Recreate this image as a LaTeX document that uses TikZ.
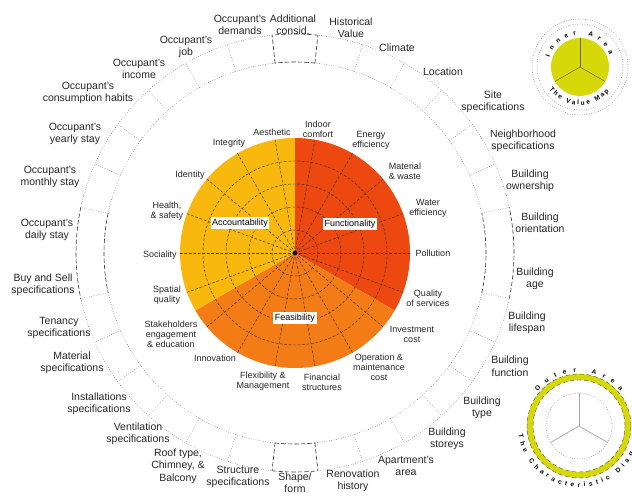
\documentclass[tikz,border=0pt]{standalone}
\usepackage{fontspec}
\setmainfont{Liberation Sans}
\usepackage{tikz}
\usetikzlibrary{decorations.text}
\definecolor{funcred}{RGB}{236,72,16}
\definecolor{feasorange}{RGB}{244,124,22}
\definecolor{accyellow}{RGB}{248,184,14}
\definecolor{mapyellow}{RGB}{214,216,10}
\newcommand{\legfont}{\fontsize{6.5}{7}\selectfont\bfseries}

\begin{document}
\begin{tikzpicture}[line cap=round,line join=round,x=1pt,y=1pt,
  grid/.style={black!80,line width=0.45pt,dash pattern=on 2.5pt off 2pt},
  ringdot/.style={black!70,line width=0.4pt,dotted},
  ringdash/.style={black!80,line width=0.6pt,dash pattern=on 4pt off 2.5pt},
  outlbl/.style={font=\fontsize{10.5}{12.5}\selectfont,align=center,text=black!85,inner sep=1pt},
  inlbl/.style={font=\fontsize{9}{10}\selectfont,align=center,text=black!85,inner sep=1pt},
  pillar/.style={fill=white,inner sep=1.5pt,font=\fontsize{9}{10}\selectfont}]
\clip(-295,-244) rectangle (337,253);
\fill[funcred] (0,0) -- (90:115) arc[start angle=90,end angle=-30,radius=115] -- cycle;
\fill[feasorange] (0,0) -- (-30:115) arc[start angle=-30,end angle=-150,radius=115] -- cycle;
\fill[accyellow] (0,0) -- (210:115) arc[start angle=210,end angle=90,radius=115] -- cycle;
\foreach \r in {23,46,69,92} \draw[grid] (0,0) circle[radius=\r];
\foreach \a in {0,20,...,340} \draw[grid] (0,0) -- (\a:115);
\fill[black] (0,0) circle[radius=2];
\foreach \s/\e in {12/84,96/168,192/264,276/348} {
  \draw[ringdot] (\s:191) arc[start angle=\s,end angle=\e,radius=191];
  \draw[ringdot] (\s:219) arc[start angle=\s,end angle=\e,radius=219];
}
\foreach \s/\e in {84/96,168/192,264/276,-12/12} {
  \draw[ringdash] (\s:191) arc[start angle=\s,end angle=\e,radius=191];
  \draw[ringdash] (\s:219) arc[start angle=\s,end angle=\e,radius=219];
}
\foreach \a in {12,24,36,48,60,72,108,120,132,144,156,168,192,204,216,228,240,252,288,300,312,324,336,348}
  \draw[ringdot] (\a:191) -- (\a:219);
\foreach \a in {84,96,264,276} \draw[ringdash] (\a:191) -- (\a:219);
\draw (55,29) node[pillar] (functionality) {Functionality};
\draw (-55,30) node[pillar] (accountability) {Accountability};
\draw (0,-65) node[pillar] (feasibility) {Feasibility};
\draw (23,124) node[inlbl] (indoor) {Indoor\\comfort};
\draw (76,113) node[inlbl] (energy) {Energy\\efficiency};
\draw (110,82) node[inlbl] (material) {Material\\\& waste};
\draw (133,45) node[inlbl] (water) {Water\\efficiency};
\draw (138,0) node[inlbl] (pollution) {Pollution};
\draw (133,-45) node[inlbl] (quality) {Quality\\of services};
\draw (117,-81) node[inlbl] (invest) {Investment\\cost};
\draw (84,-114) node[inlbl] (operation) {Operation \&\\maintenance\\cost};
\draw (27,-129) node[inlbl] (financial) {Financial\\structures};
\draw (-32,-128) node[inlbl] (flexibility) {Flexibility \&\\Management};
\draw (-80,-105) node[inlbl] (innovation) {Innovation};
\draw (-124,-81) node[inlbl] (stakeholders) {Stakeholders\\engagement\\\& education};
\draw (-128,-42) node[inlbl] (spatial) {Spatial\\quality};
\draw (-135,-2) node[inlbl] (sociality) {Sociality};
\draw (-128,42) node[inlbl] (health) {Health,\\\& safety};
\draw (-105,78) node[inlbl] (identity) {Identity};
\draw (-66,110) node[inlbl] (integrity) {Integrity};
\draw (-23,121) node[inlbl] (aesthetic) {Aesthetic};
\draw (-55,228) node[outlbl] (occdemands) {Occupant's\\demands};
\draw (-2,228) node[outlbl] (addconsid) {Additional\\consid.};
\draw (56,225) node[outlbl] (histvalue) {Historical\\Value};
\draw (102,205) node[outlbl] (climate) {Climate};
\draw (148,181) node[outlbl] (location) {Location};
\draw (198,151) node[outlbl] (sitespec) {Site\\specifications};
\draw (228,112) node[outlbl] (neighspec) {Neighborhood\\specifications};
\draw (235,72) node[outlbl] (bldowner) {Building\\ownership};
\draw (245,30) node[outlbl] (bldorient) {Building\\orientation};
\draw (240,-26) node[outlbl] (bldage) {Building\\age};
\draw (232,-70) node[outlbl] (bldlife) {Building\\lifespan};
\draw (215,-113) node[outlbl] (bldfunc) {Building\\function};
\draw (187,-155) node[outlbl] (bldtype) {Building\\type};
\draw (152,-186) node[outlbl] (bldstorey) {Building\\storeys};
\draw (111,-213) node[outlbl] (aptarea) {Apartment's\\area};
\draw (58,-228) node[outlbl] (renovhist) {Renovation\\history};
\draw (0,-237) node[outlbl] (shapeform) {Shape/\\form\\specifications};
\draw (-57,-224) node[outlbl] (structspec) {Structure\\specifications};
\draw (-117,-213) node[outlbl] (rooftype) {Roof type,\\Chimney, \&\\Balcony};
\draw (-157,-181) node[outlbl] (ventspec) {Ventilation\\specifications};
\draw (-196,-151) node[outlbl] (installspec) {Installations\\specifications};
\draw (-223,-110) node[outlbl] (matspec) {Material\\specifications};
\draw (-236,-75) node[outlbl] (tenancyspec) {Tenancy\\specifications};
\draw (-252,-32) node[outlbl] (buysell) {Buy and Sell\\specifications};
\draw (-248,23) node[outlbl] (occdaily) {Occupant's\\daily stay};
\draw (-245,76) node[outlbl] (occmonthly) {Occupant's\\monthly stay};
\draw (-220,119) node[outlbl] (occyearly) {Occupant's\\yearly stay};
\draw (-207,160) node[outlbl] (occconsum) {Occupant's\\consumption habits};
\draw (-156,184) node[outlbl] (occincome) {Occupant's\\income};
\draw (-109,206) node[outlbl] (occjob) {Occupant's\\job};
\begin{scope}[shift={(285,186)}]
\fill[mapyellow] (0,0) circle[radius=29];
\foreach \a in {90,210,330} \draw[black!50!mapyellow,line width=0.5pt] (0,0) -- (\a:29);
\draw[ringdot] (0,0) circle[radius=43];
\draw[ringdot] (0,0) circle[radius=48];
\path[decorate,decoration={text along path,text={|\legfont|Inner Area},text align={fit to path}}]
  (162:32) arc[start angle=162,end angle=22,radius=32];
\path[decorate,decoration={text along path,text={|\legfont|The Value Map},text align={fit to path}}]
  (216:38) arc[start angle=216,end angle=320,radius=38];
\end{scope}
\begin{scope}[shift={(284,-173)}]
\draw[mapyellow,line width=6pt] (0,0) circle[radius=49];
\draw[black!70,line width=0.4pt,dash pattern=on 4pt off 3pt] (0,0) circle[radius=52];
\draw[black!70,line width=0.4pt,dash pattern=on 4pt off 3pt] (0,0) circle[radius=46];
\draw[ringdot] (0,0) circle[radius=33];
\foreach \a in {90,210,330} \draw[black!35,line width=0.7pt] (0,0) -- (\a:33);
\path[decorate,decoration={text along path,text={|\legfont|Outer Area},text align={fit to path}}]
  (140:54) arc[start angle=140,end angle=40,radius=54];
\path[decorate,decoration={text along path,text={|\legfont|The Characteristic Diagram},text align={fit to path}}]
  (188:61) arc[start angle=188,end angle=355,radius=61];
\end{scope}
\end{tikzpicture}
\end{document}
